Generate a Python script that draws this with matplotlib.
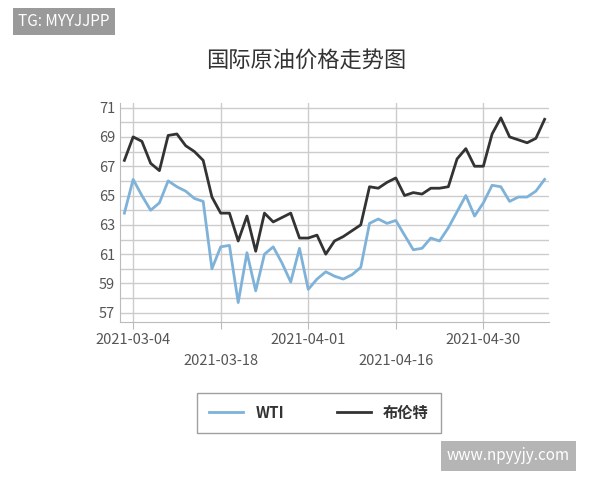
import matplotlib
matplotlib.use('Agg')
from matplotlib import pyplot as plt
import numpy as np
import pandas as pd

plt.rcParams['font.family'] = ['Noto Sans CJK SC', 'DejaVu Sans']

# trading days, first one 2021-03-03
dates = [d.strftime('%Y-%m-%d') for d in pd.bdate_range('2021-03-03', periods=49)]
tick_idx = [1, 11, 21, 31, 41]
tick_labels = ['2021-03-04', '2021-03-18', '2021-04-01', '2021-04-16', '2021-04-30']

wti = [63.8, 66.1, 65.0, 64.0, 64.5, 66.0, 65.6, 65.3, 64.8, 64.6,
       60.0, 61.5, 61.6, 57.7, 61.1, 58.5, 61.0, 61.5, 60.4, 59.1,
       61.4, 58.6, 59.3, 59.8, 59.5, 59.3, 59.6, 60.1, 63.1, 63.4,
       63.1, 63.3, 62.3, 61.3, 61.4, 62.1, 61.9, 62.8, 63.9, 65.0,
       63.6, 64.5, 65.7, 65.6, 64.6, 64.9, 64.9, 65.3, 66.1]
brent = [67.4, 69.0, 68.7, 67.2, 66.7, 69.1, 69.2, 68.4, 68.0, 67.4,
         64.9, 63.8, 63.8, 61.9, 63.6, 61.2, 63.8, 63.2, 63.5, 63.8,
         62.1, 62.1, 62.3, 61.0, 61.9, 62.2, 62.6, 63.0, 65.6, 65.5,
         65.9, 66.2, 65.0, 65.2, 65.1, 65.5, 65.5, 65.6, 67.5, 68.2,
         67.0, 67.0, 69.2, 70.3, 69.0, 68.8, 68.6, 68.9, 70.2]

fig = plt.figure(figsize=(6, 4.8), dpi=100)
ax = fig.add_axes([0.2, 0.33, 0.715, 0.455])
x = np.arange(len(dates))
ax.plot(x, wti, color='#7fb2d9', lw=2, label='WTI')
ax.plot(x, brent, color='#333333', lw=2, label='布伦特')

ax.set_xlim(-0.5, 48.5)
ax.set_ylim(56.4, 71.3)
ax.set_yticks(np.arange(57, 72, 2))
ax.set_yticks(np.arange(57, 72, 1), minor=True)
ax.set_xticks(tick_idx)
ax.set_xticklabels([t if i % 2 == 0 else '\n' + t for i, t in enumerate(tick_labels)],
                   linespacing=1.6)
ax.grid(True, which='both', axis='y', color='#cccccc', lw=1)
ax.grid(True, axis='x', color='#cccccc', lw=1)
ax.tick_params(axis='both', which='both', length=0, colors='#555555', labelsize=10.5)
ax.tick_params(axis='x', length=5, color='#bbbbbb')
for s in ['top', 'right']:
    ax.spines[s].set_visible(False)
for s in ['left', 'bottom']:
    ax.spines[s].set_color('#bbbbbb')

fig.text(0.51, 0.86, '国际原油价格走势图', ha='center', fontsize=16, color='#333333')
leg = fig.legend(loc='center', bbox_to_anchor=(0.532, 0.14), ncol=2, frameon=True,
                 fancybox=False, edgecolor='#888888', fontsize=11, handlelength=2.2,
                 columnspacing=3.5, borderpad=0.8, borderaxespad=0)
leg.get_frame().set_linewidth(1)
for t in leg.get_texts():
    t.set_fontweight('bold')
    t.set_color('#333333')
# pad the legend frame out to the reference width
leg._legend_box.sep = 10
for h in leg.legend_handles:
    pass
leg.set_bbox_to_anchor((0.532, 0.14))

fig.text(0.03, 0.955, 'TG: MYYJJPP', fontsize=11, color='white', va='center',
         bbox=dict(boxstyle='square,pad=0.35', fc='#9a9a9a', ec='none'))
fig.text(0.745, 0.05, 'www.npyyjy.com', fontsize=11, color='white', va='center',
         bbox=dict(boxstyle='square,pad=0.4', fc='#b5b5b5', ec='none'))

fig.savefig('out.png', dpi=100)
